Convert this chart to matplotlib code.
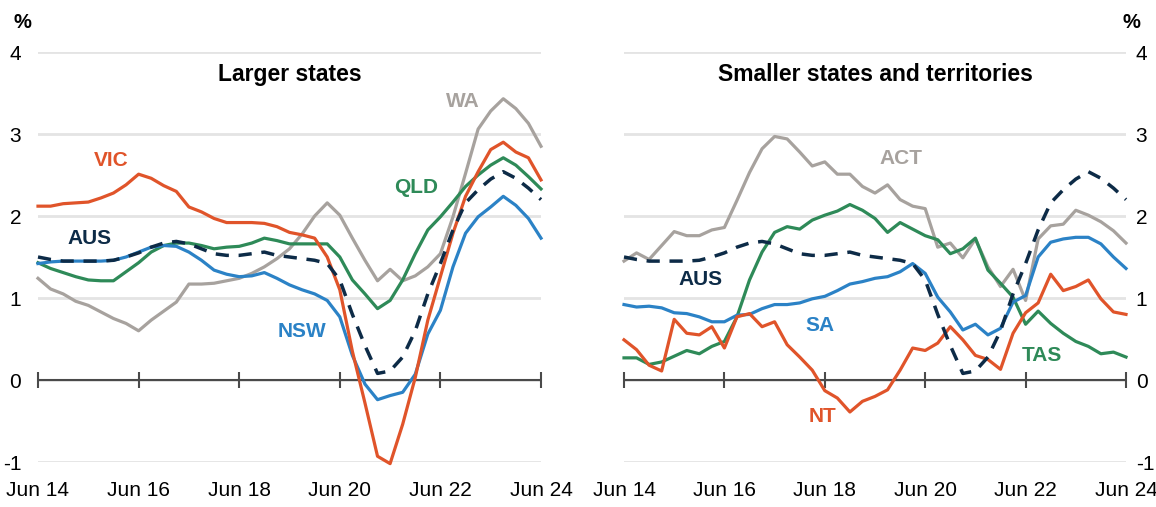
import numpy as np
import matplotlib
matplotlib.use("Agg")
import matplotlib.pyplot as plt

plt.rcParams['font.family'] = ['Liberation Sans', 'DejaVu Sans']

# quarterly, Jun 14 .. Jun 24
n_q = 41
tick_labels = ['Jun 14', 'Jun 16', 'Jun 18', 'Jun 20', 'Jun 22', 'Jun 24']

aus = [1.50, 1.47, 1.45, 1.45, 1.45, 1.45, 1.46, 1.50, 1.55, 1.62, 1.67, 1.69, 1.66, 1.60,
       1.54, 1.52, 1.52, 1.54, 1.56, 1.52, 1.50, 1.48, 1.46, 1.42, 1.22, 0.80, 0.42, 0.08,
       0.11, 0.28, 0.60, 1.05, 1.42, 1.83, 2.16, 2.32, 2.45, 2.54, 2.46, 2.34, 2.20]
vic = [2.12, 2.12, 2.15, 2.16, 2.17, 2.22, 2.28, 2.38, 2.51, 2.46, 2.37, 2.30, 2.11, 2.05,
       1.97, 1.92, 1.92, 1.92, 1.91, 1.87, 1.80, 1.77, 1.73, 1.50, 1.10, 0.35, -0.28, -0.93,
       -1.02, -0.54, 0.03, 0.73, 1.26, 1.79, 2.24, 2.54, 2.81, 2.90, 2.78, 2.71, 2.44]
nsw = [1.42, 1.44, 1.45, 1.45, 1.45, 1.45, 1.46, 1.50, 1.56, 1.62, 1.64, 1.63, 1.56, 1.46,
       1.34, 1.29, 1.26, 1.27, 1.31, 1.24, 1.16, 1.10, 1.05, 0.97, 0.77, 0.30, -0.05, -0.24,
       -0.19, -0.15, 0.07, 0.56, 0.85, 1.38, 1.79, 1.99, 2.11, 2.24, 2.13, 1.97, 1.73]
qld = [1.43, 1.36, 1.31, 1.26, 1.22, 1.21, 1.21, 1.32, 1.43, 1.56, 1.64, 1.67, 1.67, 1.64,
       1.60, 1.62, 1.63, 1.67, 1.73, 1.70, 1.66, 1.66, 1.66, 1.66, 1.50, 1.22, 1.05, 0.87,
       0.97, 1.22, 1.54, 1.83, 1.99, 2.17, 2.36, 2.50, 2.62, 2.71, 2.62, 2.48, 2.33]
wa = [1.24, 1.11, 1.05, 0.96, 0.91, 0.83, 0.75, 0.69, 0.60, 0.73, 0.84, 0.95, 1.17, 1.17,
      1.18, 1.21, 1.24, 1.30, 1.38, 1.48, 1.60, 1.78, 2.00, 2.16, 2.01, 1.73, 1.46, 1.21,
      1.35, 1.21, 1.27, 1.38, 1.54, 1.99, 2.52, 3.06, 3.28, 3.43, 3.31, 3.13, 2.85]
act = [1.45, 1.55, 1.47, 1.64, 1.81, 1.76, 1.76, 1.83, 1.86, 2.19, 2.53, 2.82, 2.97, 2.94,
       2.78, 2.61, 2.66, 2.51, 2.51, 2.36, 2.28, 2.38, 2.20, 2.12, 2.09, 1.62, 1.67, 1.49,
       1.72, 1.38, 1.14, 1.35, 0.97, 1.72, 1.88, 1.90, 2.07, 2.01, 1.93, 1.82, 1.67]
sa = [0.92, 0.89, 0.90, 0.88, 0.82, 0.81, 0.77, 0.71, 0.71, 0.79, 0.80, 0.87, 0.92, 0.92,
      0.94, 0.99, 1.02, 1.09, 1.17, 1.20, 1.24, 1.26, 1.32, 1.42, 1.30, 1.01, 0.83, 0.61,
      0.68, 0.55, 0.63, 0.95, 1.03, 1.50, 1.68, 1.72, 1.74, 1.74, 1.66, 1.50, 1.36]
tas = [0.27, 0.27, 0.19, 0.22, 0.29, 0.36, 0.32, 0.41, 0.47, 0.77, 1.22, 1.56, 1.80, 1.87,
       1.84, 1.95, 2.01, 2.06, 2.14, 2.07, 1.97, 1.80, 1.92, 1.84, 1.76, 1.71, 1.54, 1.60,
       1.73, 1.34, 1.18, 1.01, 0.68, 0.84, 0.69, 0.57, 0.47, 0.41, 0.32, 0.34, 0.28]
nt = [0.49, 0.37, 0.18, 0.11, 0.74, 0.57, 0.55, 0.65, 0.39, 0.77, 0.81, 0.65, 0.71, 0.43,
      0.28, 0.12, -0.13, -0.22, -0.39, -0.26, -0.20, -0.12, 0.12, 0.39, 0.36, 0.45, 0.65, 0.49,
      0.30, 0.25, 0.13, 0.57, 0.82, 0.94, 1.29, 1.09, 1.14, 1.22, 0.99, 0.83, 0.80]

RED = '#E0542A'
BLUE = '#2B82C6'
GREEN = '#2E8A58'
GREY = '#A7A29E'
NAVY = '#0D2B47'

x = np.arange(n_q)
ticks = np.arange(0, n_q, 8)

W, H = 1156, 507
fig = plt.figure(figsize=(W / 100, H / 100), dpi=100)
bot = 1 - 462 / H
hgt = (462 - 52) / H
ax1 = fig.add_axes([38 / W, bot, (541 - 38) / W, hgt])
ax2 = fig.add_axes([624 / W, bot, (1126 - 624) / W, hgt])


def style(ax, side):
    ax.set_xlim(0, n_q - 1)
    ax.set_ylim(-1, 4)
    ax.set_yticks([-1, 0, 1, 2, 3, 4])
    ax.set_yticklabels(['-1', '0', '1', '2', '3', '4'])
    ax.yaxis.grid(True, color='#E4E4E4', lw=2)
    ax.set_axisbelow(True)
    for s in ax.spines.values():
        s.set_visible(False)
    ax.set_xticks(ticks)
    ax.set_xticklabels(tick_labels)
    ax.tick_params(axis='x', length=0, pad=14, labelsize=15)
    ax.tick_params(axis='y', length=0, labelsize=15)
    if side == 'right':
        ax.yaxis.tick_right()
        ax.tick_params(axis='y', pad=7)
    else:
        ax.tick_params(axis='y', pad=12)
    # zero line with cross ticks
    ax.axhline(0, color='#4A4A4A', lw=1.5, zorder=1.5)
    ax.plot(ticks, np.zeros(len(ticks)), ls='none', marker='|', ms=11,
            mew=1.5, color='#4A4A4A', zorder=1.6, clip_on=False)


style(ax1, 'left')
style(ax2, 'right')

lw = 2.3
ax1.plot(x, wa, color=GREY, lw=lw, clip_on=False)
ax1.plot(x, qld, color=GREEN, lw=lw, clip_on=False)
ax1.plot(x, nsw, color=BLUE, lw=lw, clip_on=False)
ax1.plot(x, vic, color=RED, lw=lw, clip_on=False)
ax1.plot(x, aus, color=NAVY, lw=2.5, dashes=(3.8, 2.8), clip_on=False)

ax2.plot(x, act, color=GREY, lw=lw, clip_on=False)
ax2.plot(x, tas, color=GREEN, lw=lw, clip_on=False)
ax2.plot(x, sa, color=BLUE, lw=lw, clip_on=False)
ax2.plot(x, nt, color=RED, lw=lw, clip_on=False)
ax2.plot(x, aus, color=NAVY, lw=2.5, dashes=(3.8, 2.8), clip_on=False)

ax1.text(0.5, 0.946, 'Larger states', transform=ax1.transAxes, ha='center',
         va='center', fontsize=16.5, fontweight='bold')
ax2.text(0.5, 0.946, 'Smaller states and territories', transform=ax2.transAxes,
         ha='center', va='center', fontsize=16.5, fontweight='bold')

lab = dict(ha='center', va='center', fontsize=15, fontweight='bold')
ax1.text(5.8, 2.68, 'VIC', color=RED, **lab)
ax1.text(4.1, 1.73, 'AUS', color=NAVY, **lab)
ax1.text(30.1, 2.35, 'QLD', color=GREEN, **lab)
ax1.text(33.8, 3.40, 'WA', color=GREY, **lab)
ax1.text(21.0, 0.59, 'NSW', color=BLUE, **lab)

ax2.text(22.1, 2.70, 'ACT', color=GREY, **lab)
ax2.text(6.1, 1.22, 'AUS', color=NAVY, **lab)
ax2.text(15.6, 0.66, 'SA', color=BLUE, **lab)
ax2.text(33.3, 0.30, 'TAS', color=GREEN, **lab)
ax2.text(15.8, -0.44, 'NT', color=RED, **lab)

fig.text(22 / W, 1 - 23 / H, '%', ha='center', va='center', fontsize=14.5, fontweight='bold')
fig.text(1131 / W, 1 - 23 / H, '%', ha='center', va='center', fontsize=14.5, fontweight='bold')

fig.savefig('out.png', dpi=100)
